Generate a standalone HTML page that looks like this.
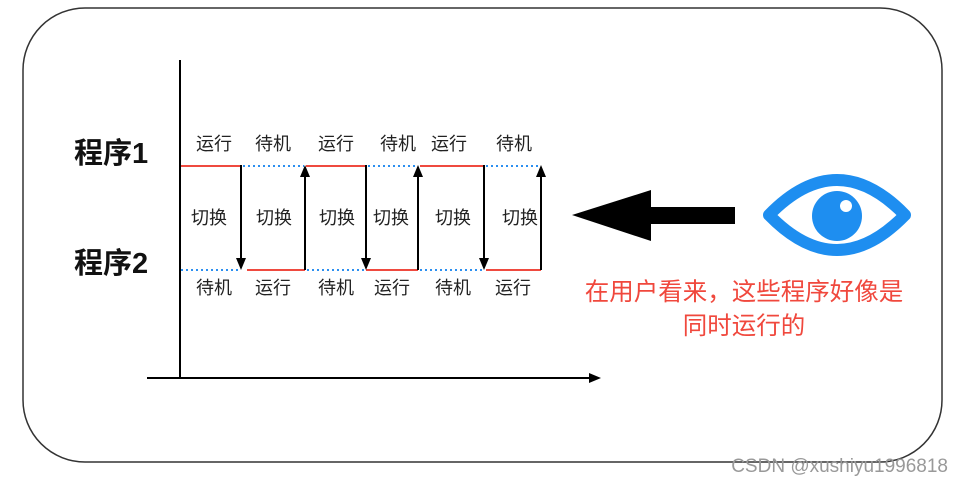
<!DOCTYPE html>
<html><head><meta charset="utf-8"><style>
body{margin:0;width:963px;height:486px;background:#fff;overflow:hidden;font-family:"Liberation Sans","Noto Sans CJK SC",sans-serif}
</style></head><body>
<svg width="963" height="486" xmlns="http://www.w3.org/2000/svg" style="position:absolute;left:0;top:0">
<rect x="23" y="8" width="919" height="454" rx="62" fill="none" stroke="#333" stroke-width="1.5"/>
<line x1="180" y1="60" x2="180" y2="378" stroke="#000" stroke-width="2"/>
<line x1="147" y1="378" x2="592" y2="378" stroke="#000" stroke-width="2"/>
<polygon points="601,378 589,373 589,383" fill="#000"/>
<g font-family="Liberation Sans, Noto Sans CJK SC, sans-serif" font-weight="bold" font-size="29" fill="#111">
<text x="74" y="163">程序1</text><text x="74" y="273">程序2</text></g>
<g stroke-width="2">
<line x1="181" y1="166" x2="241" y2="166" stroke="#ef4a3f"/>
<line x1="243" y1="166" x2="304" y2="166" stroke="#2c8ff0" stroke-dasharray="2,3"/>
<line x1="306" y1="166" x2="366" y2="166" stroke="#ef4a3f"/>
<line x1="368" y1="166" x2="417" y2="166" stroke="#2c8ff0" stroke-dasharray="2,3"/>
<line x1="420" y1="166" x2="484" y2="166" stroke="#ef4a3f"/>
<line x1="486" y1="166" x2="541" y2="166" stroke="#2c8ff0" stroke-dasharray="2,3"/>
<line x1="181" y1="270" x2="240" y2="270" stroke="#2c8ff0" stroke-dasharray="2,3"/>
<line x1="247" y1="270" x2="305" y2="270" stroke="#ef4a3f"/>
<line x1="307" y1="270" x2="364" y2="270" stroke="#2c8ff0" stroke-dasharray="2,3"/>
<line x1="366" y1="270" x2="418" y2="270" stroke="#ef4a3f"/>
<line x1="420" y1="270" x2="482" y2="270" stroke="#2c8ff0" stroke-dasharray="2,3"/>
<line x1="486" y1="270" x2="541" y2="270" stroke="#ef4a3f"/>
</g>
<g stroke="#000" stroke-width="2">
<line x1="241" y1="165" x2="241" y2="260"/><line x1="305" y1="176" x2="305" y2="270"/>
<line x1="366" y1="165" x2="366" y2="260"/><line x1="418" y1="176" x2="418" y2="270"/>
<line x1="484" y1="165" x2="484" y2="260"/><line x1="541" y1="176" x2="541" y2="270"/>
</g>
<g fill="#000">
<polygon points="241,270 236,258 246,258"/><polygon points="305,165 300,177 310,177"/>
<polygon points="366,270 361,258 371,258"/><polygon points="418,165 413,177 423,177"/>
<polygon points="484,270 479,258 489,258"/><polygon points="541,165 536,177 546,177"/>
</g>
<g font-size="18" fill="#222" text-anchor="middle">
<text x="214" y="150">运行</text><text x="273" y="150">待机</text><text x="336" y="150">运行</text><text x="398" y="150">待机</text><text x="449" y="150">运行</text><text x="514" y="150">待机</text>
<text x="209" y="224">切换</text><text x="274" y="224">切换</text><text x="337" y="224">切换</text><text x="391" y="224">切换</text><text x="453" y="224">切换</text><text x="520" y="224">切换</text>
<text x="214" y="294">待机</text><text x="273" y="294">运行</text><text x="336" y="294">待机</text><text x="392" y="294">运行</text><text x="453" y="294">待机</text><text x="513" y="294">运行</text>
</g>
<rect x="648" y="207" width="87" height="17" fill="#000"/>
<polygon points="572,215 651,190 651,241" fill="#000"/>
<path d="M769,215 Q837,145 905,215 Q837,285 769,215 Z" fill="none" stroke="#1e8ef0" stroke-width="12" stroke-linejoin="round"/>
<circle cx="837" cy="216" r="25" fill="#1e8ef0"/>
<circle cx="846" cy="206" r="6" fill="#fff"/>
<g font-size="24.5" fill="#f0483d" text-anchor="middle">
<text x="744" y="300">在用户看来，这些程序好像是</text>
<text x="744" y="334">同时运行的</text></g>
<text x="948" y="472" font-size="19" fill="#999" text-anchor="end">CSDN @xushiyu1996818</text>
</svg>
</body></html>
